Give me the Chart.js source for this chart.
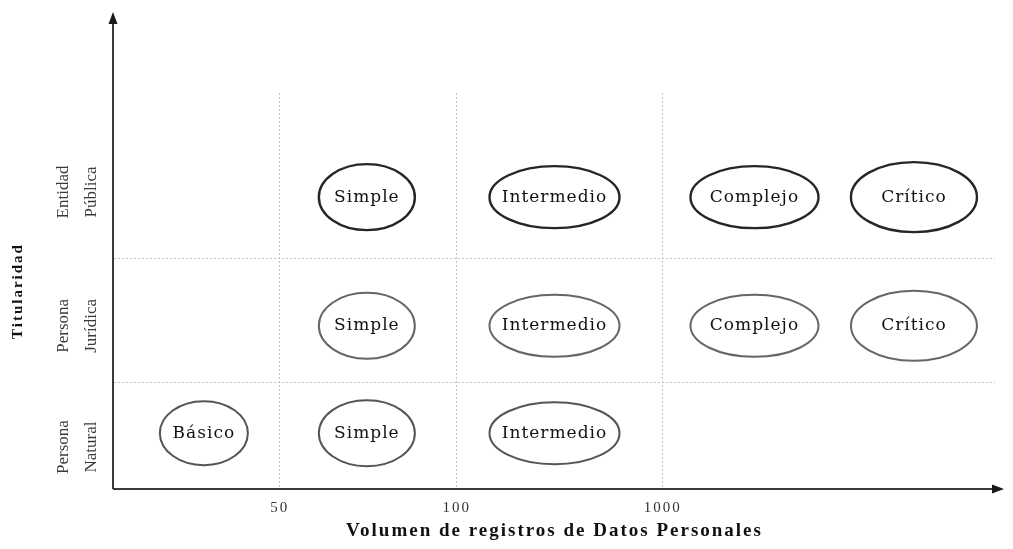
<!DOCTYPE html>
<html>
<head>
<meta charset="utf-8">
<script src="https://cdn.jsdelivr.net/npm/chart.js@4.4.1/dist/chart.umd.min.js"></script>
<style>
  html, body { margin: 0; padding: 0; background: #fff; }
</style>
</head>
<body>
<canvas id="matrix" width="1013" height="549"></canvas>
<script>
// niveles de seguridad y su posicion en el eje de volumen
const levelNames = ['Básico', 'Simple', 'Intermedio', 'Complejo', 'Crítico'];
const levelPos = [1.02, 2.87, 5.0, 7.27, 9.08];

// cortes del eje de volumen
const volumeCuts = [1.88, 3.89, 6.23];
const volumeLabels = ['50', '100', '1000'];

// titularidad (de abajo hacia arriba)
const rowNames = [['Persona', 'Natural'], ['Persona', 'Jurídica'], ['Entidad', 'Pública']];
const rowPos = [1.41, 4.12, 7.37];
const rowLabelPos = [1.06, 4.12, 7.5];
const rowCuts = [2.68, 5.83];

const rowLevels = [
  ['Básico', 'Simple', 'Intermedio'],
  ['Simple', 'Intermedio', 'Complejo', 'Crítico'],
  ['Simple', 'Intermedio', 'Complejo', 'Crítico']
];

const datasets = rowLevels.map((levels, r) => ({
  label: rowNames[r].join(' '),
  data: levels.map(name => ({ x: levelPos[levelNames.indexOf(name)], y: rowPos[r], label: name })),
  pointRadius: 0,
  showLine: false
}));

const ellipseSize = {
  'Básico': [44, 32],
  'Simple': [48, 33],
  'Intermedio': [65, 31],
  'Complejo': [64, 31],
  'Crítico': [63, 35]
};
const rowStroke = ['#555', '#666', '#262626'];

const spacingPlugin = {
  id: 'spacing',
  beforeDraw(chart) {
    chart.ctx.letterSpacing = '2px';
  }
};

const ellipsePlugin = {
  id: 'ellipses',
  afterDatasetsDraw(chart) {
    const ctx = chart.ctx;
    ctx.save();
    chart.data.datasets.forEach((ds, r) => {
      const meta = chart.getDatasetMeta(r);
      meta.data.forEach((el, i) => {
        const name = ds.data[i].label;
        const [rx, ry] = ellipseSize[name];
        ctx.beginPath();
        ctx.ellipse(el.x, el.y, rx, ry, 0, 0, Math.PI * 2);
        ctx.lineWidth = r === 2 ? 2.4 : 2;
        ctx.strokeStyle = rowStroke[r];
        ctx.stroke();
        ctx.letterSpacing = '1px';
        ctx.font = '17px "DejaVu Serif"';
        ctx.fillStyle = '#111';
        ctx.textAlign = 'center';
        ctx.textBaseline = 'middle';
        ctx.fillText(name, el.x, el.y);
      });
    });
    ctx.restore();
  }
};

const axesPlugin = {
  id: 'axes',
  afterDraw(chart) {
    const ctx = chart.ctx;
    const a = chart.chartArea;
    const x0 = a.left - 1, y0 = a.bottom;
    ctx.save();
    ctx.strokeStyle = '#3a3a3a';
    ctx.fillStyle = '#1a1a1a';
    ctx.lineWidth = 2;
    ctx.beginPath();
    ctx.moveTo(x0, y0);
    ctx.lineTo(x0, 22);
    ctx.moveTo(x0, y0);
    ctx.lineTo(a.right + 1, y0);
    ctx.stroke();
    ctx.beginPath();
    ctx.moveTo(x0, 12);
    ctx.lineTo(x0 - 4.5, 24);
    ctx.lineTo(x0 + 4.5, 24);
    ctx.closePath();
    ctx.fill();
    ctx.beginPath();
    ctx.moveTo(a.right + 9, y0);
    ctx.lineTo(a.right - 3, y0 - 4.5);
    ctx.lineTo(a.right - 3, y0 + 4.5);
    ctx.closePath();
    ctx.fill();

    // etiquetas de titularidad
    const ys = chart.scales.y;
    ctx.letterSpacing = '0px';
    ctx.font = '17px "Liberation Serif"';
    ctx.fillStyle = '#3a3a3a';
    ctx.textAlign = 'center';
    ctx.textBaseline = 'alphabetic';
    rowNames.forEach((lines, r) => {
      const py = ys.getPixelForValue(rowLabelPos[r]);
      lines.forEach((txt, k) => {
        ctx.save();
        ctx.translate(a.left - 46 + k * 28, py);
        ctx.rotate(-Math.PI / 2);
        ctx.fillText(txt, 0, 0);
        ctx.restore();
      });
    });
    ctx.restore();
  }
};

new Chart(document.getElementById('matrix'), {
  type: 'scatter',
  data: { datasets: datasets },
  options: {
    responsive: false,
    animation: false,
    layout: { padding: { left: 0, right: 18, top: 93, bottom: 0 } },
    plugins: {
      legend: { display: false },
      tooltip: { enabled: false }
    },
    scales: {
      x: {
        min: 0,
        max: 10,
        afterBuildTicks: s => { s.ticks = volumeCuts.map(v => ({ value: v })); },
        afterFit: s => { s.height = 60; },
        grid: { color: '#c4c4c4', drawTicks: false },
        border: { display: false, dash: [2, 2] },
        ticks: {
          callback: (v, i) => volumeLabels[i],
          autoSkip: false,
          maxRotation: 0,
          padding: 10,
          color: '#333',
          font: { family: 'Liberation Serif', size: 15 }
        },
        title: {
          display: true,
          text: 'Volumen de registros de Datos Personales',
          color: '#111',
          font: { family: 'Liberation Serif', size: 19, weight: 'bold' },
          padding: { top: 0, bottom: 7 }
        }
      },
      y: {
        min: 0,
        max: 10,
        afterBuildTicks: s => { s.ticks = rowCuts.map(v => ({ value: v })); },
        afterFit: s => { s.width = 114; },
        grid: { color: '#c4c4c4', drawTicks: false },
        border: { display: false, dash: [2, 2] },
        ticks: { display: false },
        title: {
          display: true,
          text: 'Titularidad',
          color: '#111',
          font: { family: 'Liberation Serif', size: 15, weight: 'bold' },
          padding: { top: 9, bottom: 0 }
        }
      }
    }
  },
  plugins: [spacingPlugin, ellipsePlugin, axesPlugin]
});
</script>
</body>
</html>
